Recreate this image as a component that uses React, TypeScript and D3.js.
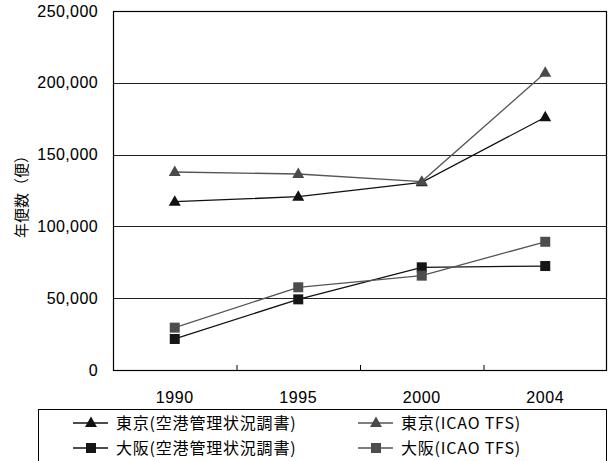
import React from 'react';
import * as d3 from 'd3';

const years = ['1990', '1995', '2000', '2004'];
const tokyoSurvey = [117200, 120700, 130700, 176000];
const tokyoIcao = [137900, 136500, 131200, 207000];
const osakaSurvey = [21600, 49200, 71500, 72400];
const osakaIcao = [29500, 57600, 65700, 89300];
const yTicks = [0, 50000, 100000, 150000, 200000, 250000];

const seriesList = [
  { name: '東京(空港管理状況調書)', values: tokyoSurvey, color: '#111', line: '#111', shape: 'tri' },
  { name: '東京(ICAO TFS)', values: tokyoIcao, color: '#4a4a4a', line: '#555', shape: 'tri' },
  { name: '大阪(空港管理状況調書)', values: osakaSurvey, color: '#161616', line: '#111', shape: 'sq' },
  { name: '大阪(ICAO TFS)', values: osakaIcao, color: '#4d4d4d', line: '#555', shape: 'sq' },
];

const W = 614, H = 461;
const L = 113, R = 607, T = 11, B = 370;

function Marker({ shape, x, y, color }: { shape: string; x: number; y: number; color: string }) {
  if (shape === 'tri') {
    const s = d3.symbol().type(d3.symbolTriangle).size(62)();
    return <path d={s || ''} transform={`translate(${x},${y + 0.5})`} fill={color} />;
  }
  return <rect x={x - 5} y={y - 5} width={10} height={10} fill={color} />;
}

export default function App() {
  const x = d3.scaleBand().domain(years).range([L, R]);
  const y = d3.scaleLinear().domain([0, 250000]).range([B, T]);
  const fmt = d3.format(',');
  const line = d3.line<number>().x((_, i) => (x(years[i]) as number) + x.bandwidth() / 2).y((v) => y(v));
  const numFont = '"Liberation Sans", Arial, sans-serif';
  const jpFont = '"Noto Sans CJK JP", sans-serif';
  const legendPos = [
    { lx: 73, ty: 423 },
    { lx: 358, ty: 423 },
    { lx: 73, ty: 448 },
    { lx: 358, ty: 448 },
  ];
  return (
    <svg width={W} height={H} style={{ position: 'absolute', left: 0, top: 0, background: '#fff' }}>
      <rect x={0} y={0} width={W} height={H} fill="#fff" />
      {yTicks.slice(1, -1).map((t) => (
        <line key={t} x1={L} x2={R} y1={Math.round(y(t)) + 0.5} y2={Math.round(y(t)) + 0.5} stroke="#222" strokeWidth={1} />
      ))}
      <rect x={L + 0.5} y={T + 0.5} width={R - L - 1} height={B - T} fill="none" stroke="#000" strokeWidth={1.2} />
      {years.slice(1).map((yr) => (
        <line key={yr} x1={(x(yr) as number) + 0.5} x2={(x(yr) as number) + 0.5} y1={B} y2={B - 5} stroke="#000" />
      ))}
      {yTicks.map((t) => (
        <text key={t} x={98} y={y(t)} dy="0.35em" textAnchor="end" fontFamily={numFont} fontSize={16} letterSpacing={0.4} fill="#000" stroke="#000" strokeWidth={0.08}>
          {fmt(t)}
        </text>
      ))}
      {years.map((yr) => (
        <text key={yr} x={(x(yr) as number) + x.bandwidth() / 2} y={397} dy="0.35em" textAnchor="middle" fontFamily={numFont} fontSize={16} letterSpacing={0.6} fill="#000" stroke="#000" strokeWidth={0.08}>
          {yr}
        </text>
      ))}
      <text transform="translate(22,193) rotate(-90)" textAnchor="middle" dy="0.35em" fontFamily={jpFont} fontSize={15} fill="#000">
        年便数（便）
      </text>
      {seriesList.map((s) => (
        <path key={s.name + 'l'} d={line(s.values) || ''} fill="none" stroke={s.line} strokeWidth={1.3} />
      ))}
      {seriesList.map((s) =>
        s.values.map((v, i) => (
          <Marker key={s.name + i} shape={s.shape} x={(x(years[i]) as number) + x.bandwidth() / 2} y={y(v)} color={s.color} />
        ))
      )}
      <rect x={38.5} y={409.5} width={568} height={60} fill="#fff" stroke="#000" strokeWidth={1} />
      {seriesList.map((s, i) => {
        const p = legendPos[i];
        return (
          <g key={s.name + 'leg'}>
            <line x1={p.lx} x2={p.lx + 35} y1={p.ty} y2={p.ty} stroke={s.line} strokeWidth={1.3} />
            <Marker shape={s.shape} x={p.lx + 18} y={p.ty} color={s.color} />
            <text x={p.lx + 43} y={p.ty} dy="0.35em" fontFamily={jpFont} fontSize={16} letterSpacing={0.8} fill="#000">
              {s.name}
            </text>
          </g>
        );
      })}
    </svg>
  );
}
